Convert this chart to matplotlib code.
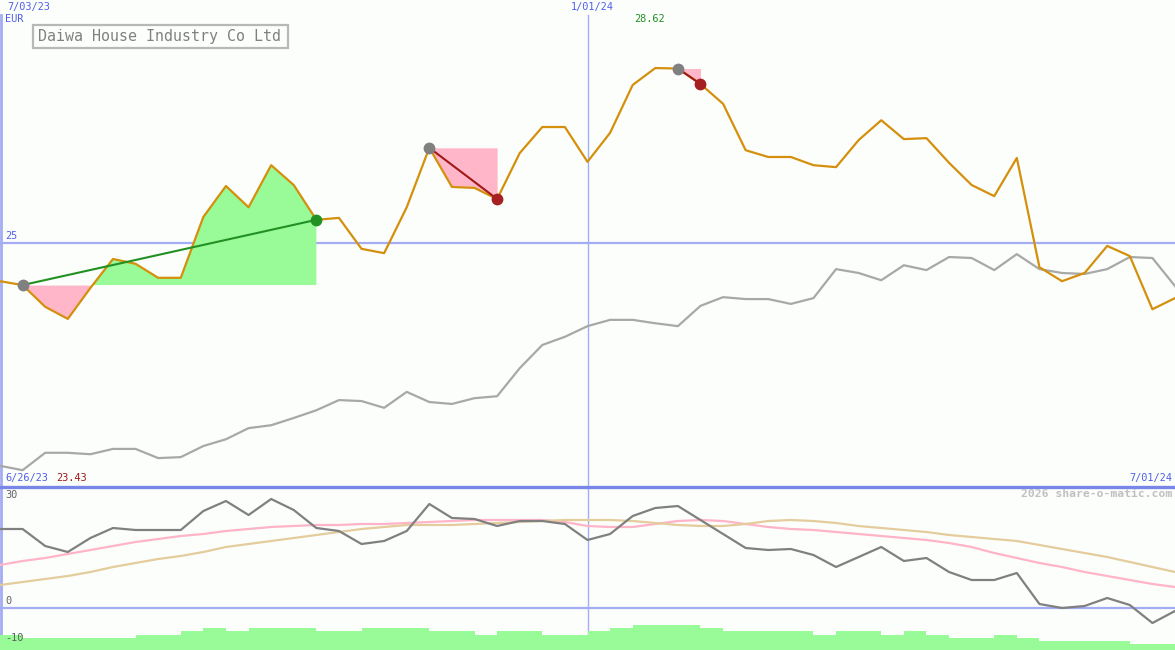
import matplotlib
matplotlib.use('Agg')
import numpy as np
import matplotlib.pyplot as plt
from matplotlib.patches import Rectangle

# weekly closes, 7/03/23 .. 7/01/24 (EUR)
price = [24.21, 24.13, 23.68, 23.43, 24.07, 24.67, 24.57, 24.28, 24.28, 25.54,
         26.18, 25.74, 26.61, 26.20, 25.48, 25.52, 24.88, 24.79, 25.74, 26.97,
         26.16, 26.14, 25.91, 26.86, 27.40, 27.40, 26.68, 27.28, 28.27, 28.62,
         28.61, 28.29, 27.88, 26.92, 26.78, 26.78, 26.61, 26.57, 27.13, 27.54,
         27.15, 27.17, 26.66, 26.20, 25.97, 26.76, 24.50, 24.21, 24.38, 24.94,
         24.73, 23.63, 23.86]

# comparison line (rescaled index)
compare = [20.39, 20.30, 20.66, 20.66, 20.63, 20.74, 20.74, 20.55, 20.57, 20.80,
           20.94, 21.17, 21.23, 21.38, 21.54, 21.75, 21.73, 21.59, 21.92, 21.71,
           21.67, 21.79, 21.83, 22.41, 22.89, 23.06, 23.28, 23.41, 23.41, 23.34,
           23.28, 23.70, 23.88, 23.84, 23.84, 23.74, 23.86, 24.46, 24.38, 24.23,
           24.54, 24.44, 24.71, 24.69, 24.44, 24.77, 24.46, 24.38, 24.36, 24.46,
           24.71, 24.69, 24.11]

# lower panel: oscillator + two averages
osc = [19.75, 19.75, 15.5, 14.0, 17.5, 20.0, 19.5, 19.5, 19.5, 24.25,
       26.75, 23.25, 27.25, 24.5, 20.0, 19.25, 16.0, 16.75, 19.25, 26.0,
       22.5, 22.25, 20.5, 21.75, 21.75, 21.0, 17.0, 18.5, 23.0, 25.0,
       25.5, 22.0, 18.5, 15.0, 14.5, 14.75, 13.25, 10.25, 12.75, 15.25,
       11.75, 12.5, 9.0, 7.0, 7.0, 8.75, 1.0, 0.0, 0.5, 2.5,
       0.75, -3.75, -0.75]

avg_fast = [10.75, 11.75, 12.5, 13.5, 14.5, 15.5, 16.5, 17.25, 18.0, 18.5,
            19.25, 19.75, 20.25, 20.5, 20.75, 20.75, 21.0, 21.0, 21.25, 21.5,
            21.75, 22.0, 22.0, 22.0, 22.0, 21.5, 20.5, 20.25, 20.25, 21.0,
            21.75, 22.0, 21.75, 21.0, 20.25, 19.75, 19.5, 19.0, 18.5, 18.0,
            17.5, 17.0, 16.25, 15.25, 13.75, 12.5, 11.25, 10.25, 9.0, 8.0,
            7.0, 6.0, 5.25]

avg_slow = [5.75, 6.5, 7.25, 8.0, 9.0, 10.25, 11.25, 12.25, 13.0, 14.0,
            15.25, 16.0, 16.75, 17.5, 18.25, 19.0, 19.75, 20.25, 20.75, 20.75,
            20.75, 21.0, 21.25, 21.5, 21.75, 22.0, 22.0, 22.0, 21.75, 21.25,
            20.75, 20.5, 20.5, 21.0, 21.75, 22.0, 21.75, 21.25, 20.5, 20.0,
            19.5, 19.0, 18.25, 17.75, 17.25, 16.75, 15.75, 14.75, 13.75, 12.75,
            11.5, 10.25, 9.0]

# weekly volume-like histogram at the bottom
hist = [-6.7, -7.4, -7.4, -7.4, -7.4, -7.4, -6.7, -6.7, -5.75, -4.95,
        -5.75, -4.95, -4.95, -4.95, -5.75, -5.75, -4.95, -4.95, -4.95, -5.75,
        -5.75, -6.7, -5.75, -5.75, -6.7, -6.7, -5.75, -4.95, -4.2, -4.2,
        -4.2, -4.95, -5.75, -5.75, -5.75, -5.75, -6.7, -5.75, -5.75, -6.7,
        -5.75, -6.7, -7.4, -7.4, -6.7, -7.4, -8.2, -8.2, -8.2, -8.2,
        -8.9, -8.9]

# trades: (start week, end week)
trades = [(1, 14), (19, 22), (30, 31)]

W, H = 1175, 650
BG = '#fcfefc'
BLUE_LINE = '#a4acf4'
BLUE_TXT = '#5060e8'
ORANGE = '#d4900c'

x = np.arange(len(price))
p = np.array(price)

fig = plt.figure(figsize=(W / 100, H / 100), dpi=100, facecolor=BG)
ax = fig.add_axes([0, 163 / H, 1, 487 / H], facecolor=BG)
ax2 = fig.add_axes([0, 0, 1, 163 / H], facecolor=BG)

for a in (ax, ax2):
    a.set_xlim(0, 52)
    a.axis('off')

ax.set_ylim(19.952, 30.028)
ax2.set_ylim(-10.5, 30.25)

# grid lines
ax.axhline(25, color=BLUE_LINE, lw=1.6, zorder=1)
ax2.axhline(0, color=BLUE_LINE, lw=1.6, zorder=1)
ax.axvline(26, ymax=(487 - 15) / 487, color=BLUE_LINE, lw=1, zorder=1)
ax2.axvline(26, color=BLUE_LINE, lw=1, zorder=1)
ax.axvline(0.05, ymax=(487 - 15) / 487, color=BLUE_LINE, lw=2, zorder=1)
ax2.axvline(0.05, color=BLUE_LINE, lw=2, zorder=1)

# main panel
ax.plot(x, compare, color='#a8a8a8', lw=1.6, zorder=2)
for s, e in trades:
    xs = x[s:e + 1]
    ys = p[s:e + 1]
    base = p[s]
    ax.fill_between(xs, ys, base, where=ys >= base, interpolate=True,
                    color='#98fb98', lw=0, zorder=2)
    ax.fill_between(xs, ys, base, where=ys <= base, interpolate=True,
                    color='#ffb6c8', lw=0, zorder=2)
ax.plot(x, p, color=ORANGE, lw=1.6, zorder=3)
for s, e in trades:
    gain = p[e] >= p[s]
    ax.plot([x[s], x[e]], [p[s], p[e]], color='#229022' if gain else '#a01818',
            lw=1.5, zorder=4)
    ax.plot(x[s], p[s], 'o', ms=8.5, color='#808080', mec='none', zorder=5)
    ax.plot(x[e], p[e], 'o', ms=8.5, color='#229022' if gain else '#a52020',
            mec='none', zorder=5)

# lower panel
ax2.bar(x[:-1], np.array(hist) + 10.5, bottom=-10.5, width=1, align='edge',
        color='#98fb98', lw=0, zorder=2)
ax2.plot(x, avg_fast, color='#ffb4c8', lw=1.6, zorder=3)
ax2.plot(x, avg_slow, color='#e4cc9c', lw=1.6, zorder=3)
ax2.plot(x, osc, color='#808080', lw=1.6, zorder=4)

# panel border
fig.add_artist(plt.Line2D([0, 1], [163 / H, 163 / H], color='#7886e8', lw=2.4))


def txt(px, py, s, **kw):
    fig.text(px / W, 1 - py / H, s, family='DejaVu Sans Mono', va='top', **kw)


txt(7, 2, '7/03/23', color=BLUE_TXT, fontsize=7.4)
txt(5, 14, 'EUR', color=BLUE_TXT, fontsize=7.4)
txt(571, 2, '1/01/24', color=BLUE_TXT, fontsize=7.4)
txt(634, 14, '28.62', color='#229022', fontsize=7.4)
txt(5, 231, '25', color=BLUE_TXT, fontsize=7.4)
txt(5, 473, '6/26/23', color=BLUE_TXT, fontsize=7.4)
txt(56, 473, '23.43', color='#a01818', fontsize=7.4)
txt(1172, 473, '7/01/24', color=BLUE_TXT, fontsize=7.4, ha='right')
txt(5, 490, '30', color='#606060', fontsize=7.4)
txt(1172, 489, '2026 share-o-matic.com', color='#c0c0c0', fontsize=8.2,
    ha='right', weight='bold')
txt(5, 596, '0', color='#606060', fontsize=7.4)
txt(5, 633, '-10', color='#606060', fontsize=7.4)

# title box
fig.add_artist(Rectangle((33 / W, 1 - 48 / H), 255 / W, 23 / H,
                         transform=fig.transFigure, fc='none', ec='#b8b8b8', lw=1.6))
fig.text(160 / W, 1 - 36.5 / H, 'Daiwa House Industry Co Ltd',
         family='DejaVu Sans Mono', color='#808080', fontsize=10.8,
         ha='center', va='center')

fig.savefig('out.png', dpi=100, facecolor=BG)
